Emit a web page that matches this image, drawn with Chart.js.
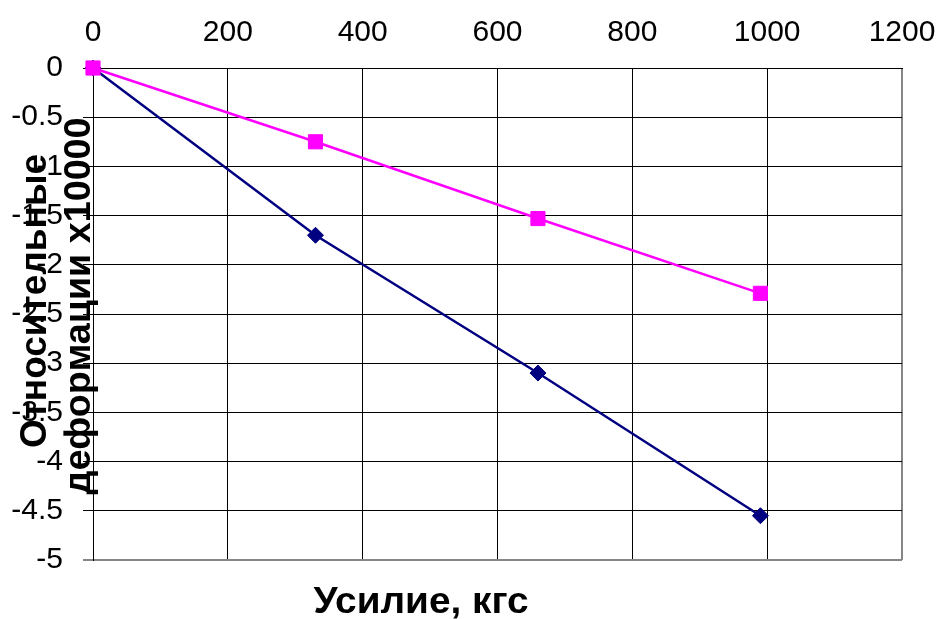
<!DOCTYPE html>
<html>
<head>
<meta charset="utf-8">
<script src="https://cdn.jsdelivr.net/npm/chart.js@4"></script>
<style>
  html, body { margin: 0; padding: 0; background: #ffffff; }
  canvas { display: block; }
</style>
</head>
<body>
<canvas id="chart" width="941" height="619"></canvas>
<script>
// Load applied, kgf
const loads = [0, 330, 660, 990];
// Relative strain x10000, two gauges
const strainA = [0, -1.70, -3.10, -4.55];
const strainB = [0, -0.75, -1.53, -2.29];
// Axis tick values
const xTicks = [0, 200, 400, 600, 800, 1000, 1200];
const yTicks = [0, -0.5, -1, -1.5, -2, -2.5, -3, -3.5, -4, -4.5, -5];

const xTitle = 'Усилие, кгс';
const yTitleLines = ['Относительные', 'деформации х10000'];

const FONT = '"Liberation Sans", Arial, sans-serif';

const toPoints = (ys) => loads.map((x, i) => ({ x: x, y: ys[i] }));

// Draws one line of bold title text centred on (cx, baseline), fitted to a given ink length
function fittedText(ctx, text, cx, baseline, length) {
  const m = ctx.measureText(text);
  const ink = m.actualBoundingBoxLeft + m.actualBoundingBoxRight;
  const k = ink > 0 ? length / ink : 1;
  ctx.save();
  ctx.translate(cx, baseline);
  ctx.scale(k, 1);
  ctx.fillText(text, 0, 0);
  ctx.restore();
}

// Axis titles drawn freely over the plot edge
const axisTitles = {
  id: 'axisTitles',
  afterDraw(chart) {
    const ctx = chart.ctx;
    ctx.save();
    ctx.fillStyle = '#000000';
    ctx.textAlign = 'center';
    ctx.textBaseline = 'alphabetic';
    ctx.font = 'bold 36px ' + FONT;
    fittedText(ctx, xTitle, 421, 613, 214);
    ctx.rotate(-Math.PI / 2);
    // after rotation: first coordinate is -y, second is x
    fittedText(ctx, yTitleLines[0], -301, 46, 292);
    fittedText(ctx, yTitleLines[1], -306, 90, 376);
    ctx.restore();
  }
};

const edgeColor = '#868686';

new Chart(document.getElementById('chart'), {
  type: 'line',
  data: {
    datasets: [
      {
        label: 'B',
        data: toPoints(strainB),
        borderColor: '#FF00FF',
        backgroundColor: '#FF00FF',
        borderWidth: 2.5,
        pointStyle: 'rect',
        pointRadius: 10,
        pointBorderWidth: 1,
        tension: 0,
        clip: false
      },
      {
        label: 'A',
        data: toPoints(strainA),
        borderColor: '#000080',
        backgroundColor: '#000080',
        borderWidth: 2.5,
        pointStyle: 'rectRot',
        pointRadius: 8,
        pointBorderWidth: 1,
        tension: 0,
        clip: false
      }
    ]
  },
  options: {
    responsive: false,
    animation: false,
    layout: { padding: { top: 0, left: 0, right: 39, bottom: 59 } },
    plugins: {
      legend: { display: false },
      tooltip: { enabled: false }
    },
    elements: { line: { fill: false } },
    scales: {
      x: {
        type: 'linear',
        position: 'top',
        min: 0,
        max: 1200,
        afterBuildTicks: (s) => { s.ticks = xTicks.map(v => ({ value: v })); },
        afterFit: (s) => { s.height = 68; },
        ticks: {
          color: '#000000',
          font: { family: FONT, size: 30 },
          padding: 0,
          maxRotation: 0,
          callback: (v) => String(v)
        },
        grid: {
          drawTicks: true,
          tickLength: 17,
          tickColor: 'rgba(0,0,0,0)',
          color: (c) => (c.tick && c.tick.value === 1200 ? edgeColor : '#000000'),
          lineWidth: (c) => (c.tick && c.tick.value === 1200 ? 2 : 1)
        },
        border: { display: true, color: '#000000', width: 1 }
      },
      y: {
        type: 'linear',
        min: -5,
        max: 0,
        afterBuildTicks: (s) => { s.ticks = yTicks.map(v => ({ value: v })); },
        afterFit: (s) => { s.width = 93; },
        ticks: {
          color: '#000000',
          font: { family: FONT, size: 30 },
          padding: 20,
          callback: (v) => String(v)
        },
        grid: {
          tickLength: 10,
          color: (c) => (c.tick && c.tick.value === -5 ? edgeColor : '#000000'),
          lineWidth: (c) => (c.tick && c.tick.value === -5 ? 2 : 1)
        },
        border: { display: true, color: '#000000', width: 1 }
      }
    }
  },
  plugins: [axisTitles]
});
</script>
</body>
</html>
